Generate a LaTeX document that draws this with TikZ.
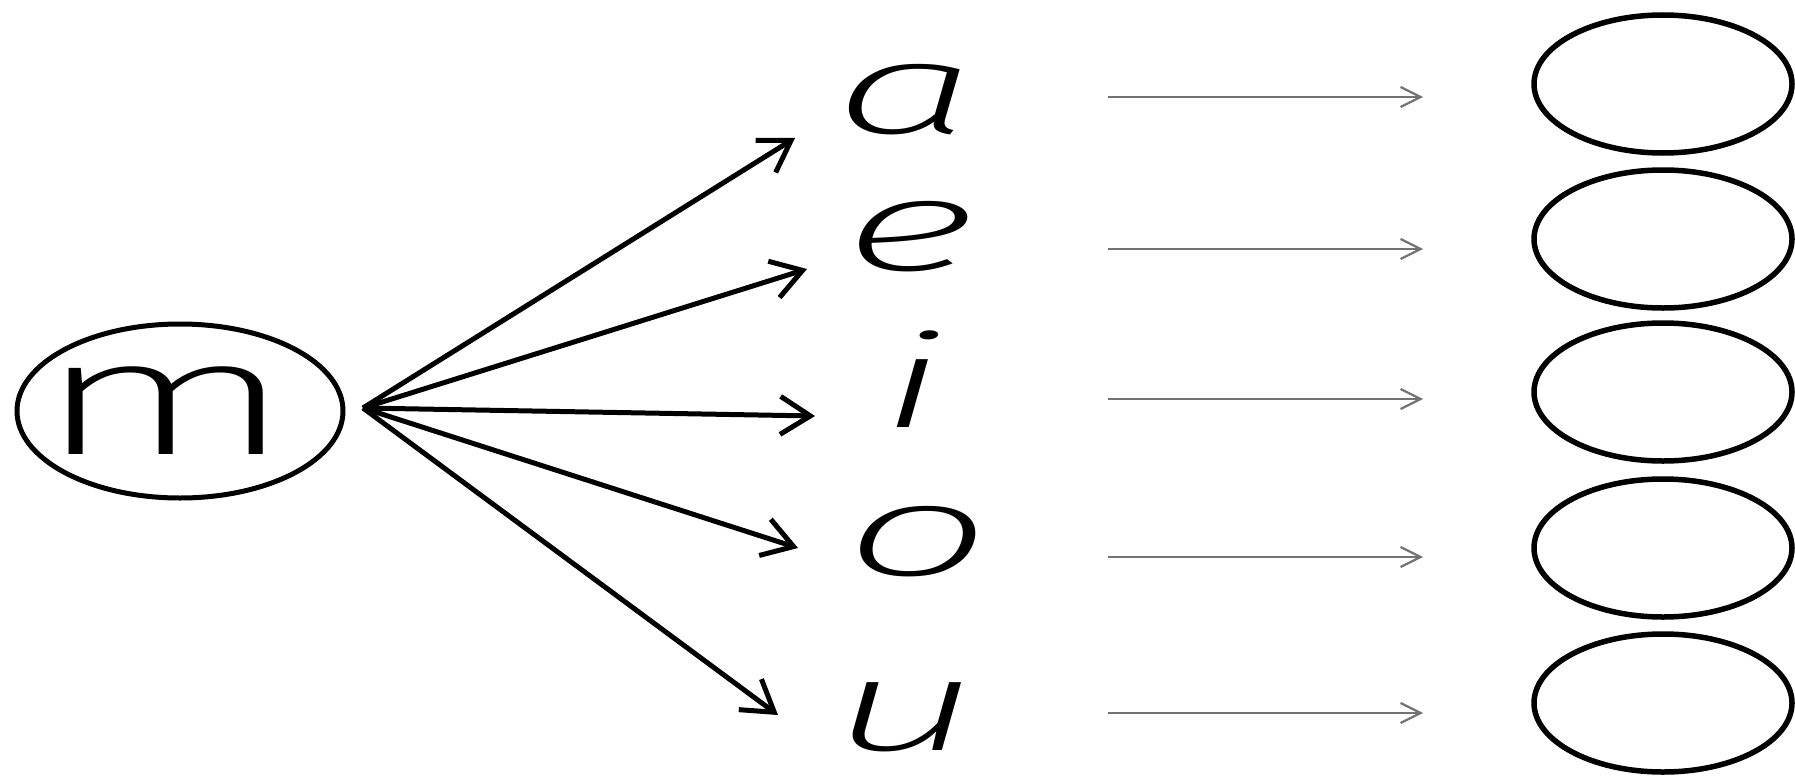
\documentclass[tikz,border=0pt]{standalone}
\usepackage{fontspec}
\usepackage{graphicx}
\newfontfamily\hand{Fira Sans ExtraLight}
\usetikzlibrary{arrows.meta,shapes.geometric}
\begin{document}
\begin{tikzpicture}[x=1pt,y=-1pt,
  bigring/.style={draw, ellipse, line width=5pt, minimum width=326pt, minimum height=174pt, inner sep=0pt},
  slot/.style={draw, ellipse, line width=5.5pt, minimum width=258pt, minimum height=138pt, inner sep=0pt},
  vowel/.style={anchor=base, inner sep=0pt, font=\hand\itshape\fontsize{130}{130}\selectfont},
  fan/.style={line width=5pt, -{Straight Barb[length=30pt,width=38pt]}},
  thinarrow/.style={draw=black!55, line width=2.2pt, -{Straight Barb[length=20pt,width=20pt]}}]
\useasboundingbox (0,0) rectangle (1795,776);
% source
\node[bigring, font=\hand\fontsize{165}{165}\selectfont] (m) at (180,411) {\makebox[0pt]{\scalebox{1.85}[1]{m}\kern30pt}};
\coordinate (hub) at (363,408);
% vowels
\node[vowel] (la) at (906,133) {\scalebox{2}[1]{a}};
\node[vowel] (le) at (910,270) {\scalebox{2}[1]{e}};
\node[vowel] (li) at (913,427) {\scalebox{2}[1]{i}};
\node[vowel] (lo) at (918,575) {\scalebox{2}[1]{o}};
\node[vowel] (lu) at (905,750) {\scalebox{2}[1]{u}};
% arrow ends
\coordinate (ta) at (795,138);
\coordinate (te) at (807,269);
\coordinate (ti) at (815,416);
\coordinate (to) at (798,548);
\coordinate (tu) at (778,715);
\foreach \t in {ta,te,ti,to,tu} \draw[fan] (hub) -- (\t);
% answer slots
\node[slot] (ca) at (1663,84) {};
\node[slot] (ce) at (1663,239) {};
\node[slot] (ci) at (1663,392) {};
\node[slot] (co) at (1663,548) {};
\node[slot] (cu) at (1663,703) {};
% thin arrows
\coordinate (sa) at (1108,97);  \coordinate (ea) at (1423,97);
\coordinate (se) at (1108,249); \coordinate (ee) at (1423,249);
\coordinate (si) at (1108,399); \coordinate (ei) at (1423,399);
\coordinate (so) at (1108,557); \coordinate (eo) at (1423,557);
\coordinate (su) at (1108,713); \coordinate (eu) at (1423,713);
\foreach \v in {a,e,i,o,u} \draw[thinarrow] (s\v) -- (e\v);
\end{tikzpicture}
\end{document}
